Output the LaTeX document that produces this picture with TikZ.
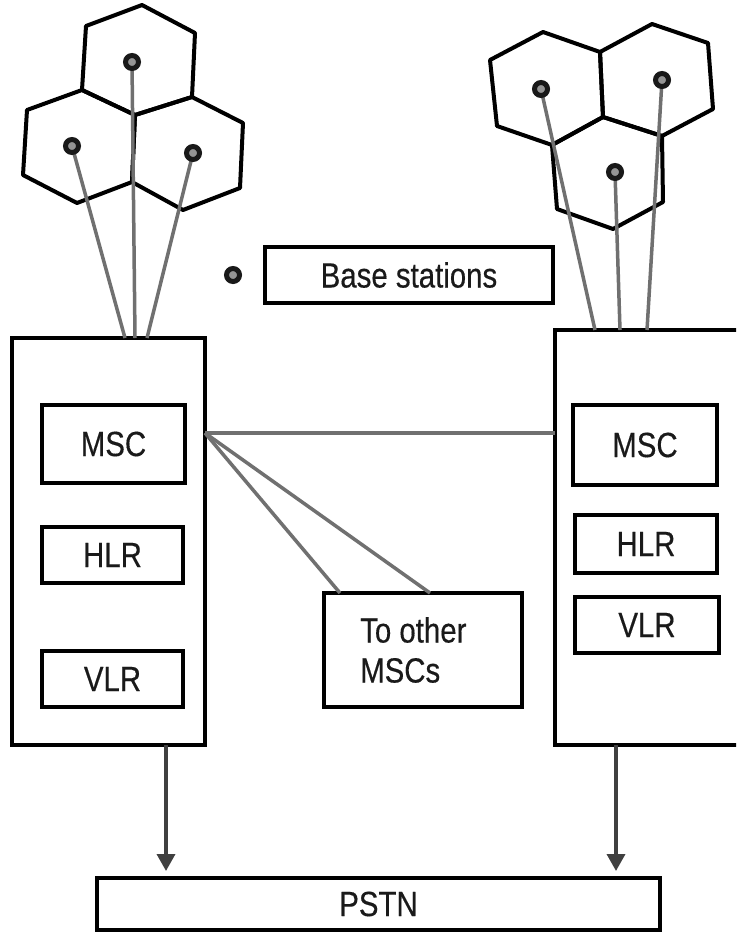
\documentclass[tikz,border=0pt]{standalone}
\usepackage{fontspec}
\setmainfont[FakeStretch=0.84, FakeBold=0.35]{Liberation Sans}
\usetikzlibrary{arrows.meta}
\definecolor{linkgray}{HTML}{707070}
\definecolor{arrowgray}{HTML}{404040}
\definecolor{txtcol}{HTML}{1A1A1A}
\definecolor{dotfill}{HTML}{959595}
\tikzset{
  box/.style={draw=black, line width=4.5pt, inner sep=0pt, outer sep=0pt, fill=white,
    text=txtcol, font=\fontsize{35}{40}\selectfont},
  hexcell/.style={draw=black, line width=4pt, line join=round},
  link/.style={draw=linkgray, line width=4pt},
  bsdot/.style={circle, draw=black!90, line width=5pt, fill=dotfill, minimum size=13pt, inner sep=0pt},
  toarrow/.style={draw=arrowgray, line width=3.5pt, -{Triangle[length=17pt,width=18pt]}},
}
\begin{document}
\begin{tikzpicture}[x=1pt,y=-1pt]
\clip (0,0) rectangle (736,934);
\fill[white] (0,0) rectangle (736,934);

% left cell cluster
\draw[hexcell] (142,5) -- (195,33) -- (192,97) -- (135,115) -- (82,90) -- (86,26) -- cycle;
\draw[hexcell] (82,90) -- (135,115) -- (132,182) -- (77,203) -- (23,175) -- (27,110) -- cycle;
\draw[hexcell] (192,97) -- (243,123) -- (240,188) -- (183,210) -- (132,182) -- (135,115) -- cycle;

% right cell cluster
\draw[hexcell] (490,60) -- (543,32) -- (600,52) -- (603,117) -- (552,145) -- (497,126) -- cycle;
\draw[hexcell] (600,52) -- (652,24) -- (708,43) -- (713,109) -- (662,136) -- (603,117) -- cycle;
\draw[hexcell] (552,145) -- (603,117) -- (662,136) -- (663,202) -- (613,229) -- (557,209) -- cycle;

% base station positions
\coordinate (bsL1) at (72,146);
\coordinate (bsL2) at (132,62);
\coordinate (bsL3) at (193,153);
\coordinate (bsR1) at (541,89);
\coordinate (bsR2) at (615,172);
\coordinate (bsR3) at (662,80);

% switching centre boxes
\node[box, minimum width=193pt, minimum height=407pt] (lb) at (108.5,541.5) {};
\node[box, minimum width=200pt, minimum height=415pt, anchor=north west] (rb) at (555,330) {};

% attachment points
\coordinate (lt1) at (125,338);
\coordinate (lt2) at (135,338);
\coordinate (lt3) at (147,338);
\coordinate (rt1) at (595,330);
\coordinate (rt2) at (620,330);
\coordinate (rt3) at (647,330);

\draw[link, line width=3.5pt] (bsL1) -- (lt1);
\draw[link, line width=3.5pt] (bsL2) -- (lt2);
\draw[link, line width=3.5pt] (bsL3) -- (lt3);
\draw[link, line width=3.5pt] (bsR1) -- (rt1);
\draw[link, line width=3.5pt] (bsR2) -- (rt2);
\draw[link, line width=3.5pt] (bsR3) -- (rt3);

\foreach \d in {bsL1,bsL2,bsL3,bsR1,bsR2,bsR3} \node[bsdot] at (\d) {};

% legend
\node[bsdot] (legdot) at (233,275) {};
\node[box, minimum width=288pt, minimum height=56pt] (legend) at (409,275) {Base stations};

% inner boxes
\node[box, minimum width=143pt, minimum height=78pt] (msc1) at (113.5,444) {MSC};
\node[box, minimum width=141pt, minimum height=56pt] (hlr1) at (112.5,555) {HLR};
\node[box, minimum width=141pt, minimum height=56pt] (vlr1) at (112.5,679) {VLR};

\node[box, minimum width=144pt, minimum height=80pt] (msc2) at (645,445) {MSC};
\node[box, minimum width=142pt, minimum height=58pt] (hlr2) at (646,544) {HLR};
\node[box, minimum width=144pt, minimum height=56pt] (vlr2) at (647,625) {VLR};

% to other MSCs
\node[box, minimum width=198pt, minimum height=114pt] (other) at (423,650) {};
\node[text=txtcol, font=\fontsize{35}{40}\selectfont, align=left, inner sep=0pt, anchor=west] (othertxt) at (360,650) {To other\\MSCs};

% links between MSCs
\coordinate (j) at (205,433);
\coordinate (rbj) at (555,433);
\coordinate (o1) at (340,593);
\coordinate (o2) at (430,593);
\draw[link] (j) -- (rbj);
\draw[link, line width=3.5pt] (j) -- (o1);
\draw[link, line width=3.5pt] (j) -- (o2);

% PSTN
\node[box, minimum width=563pt, minimum height=52pt] (pstn) at (378.5,904) {PSTN};

\coordinate (a1s) at (166,745);
\coordinate (a1e) at (166,871);
\coordinate (a2s) at (616,745);
\coordinate (a2e) at (616,871);
\draw[toarrow] (a1s) -- (a1e);
\draw[toarrow] (a2s) -- (a2e);
\end{tikzpicture}
\end{document}
